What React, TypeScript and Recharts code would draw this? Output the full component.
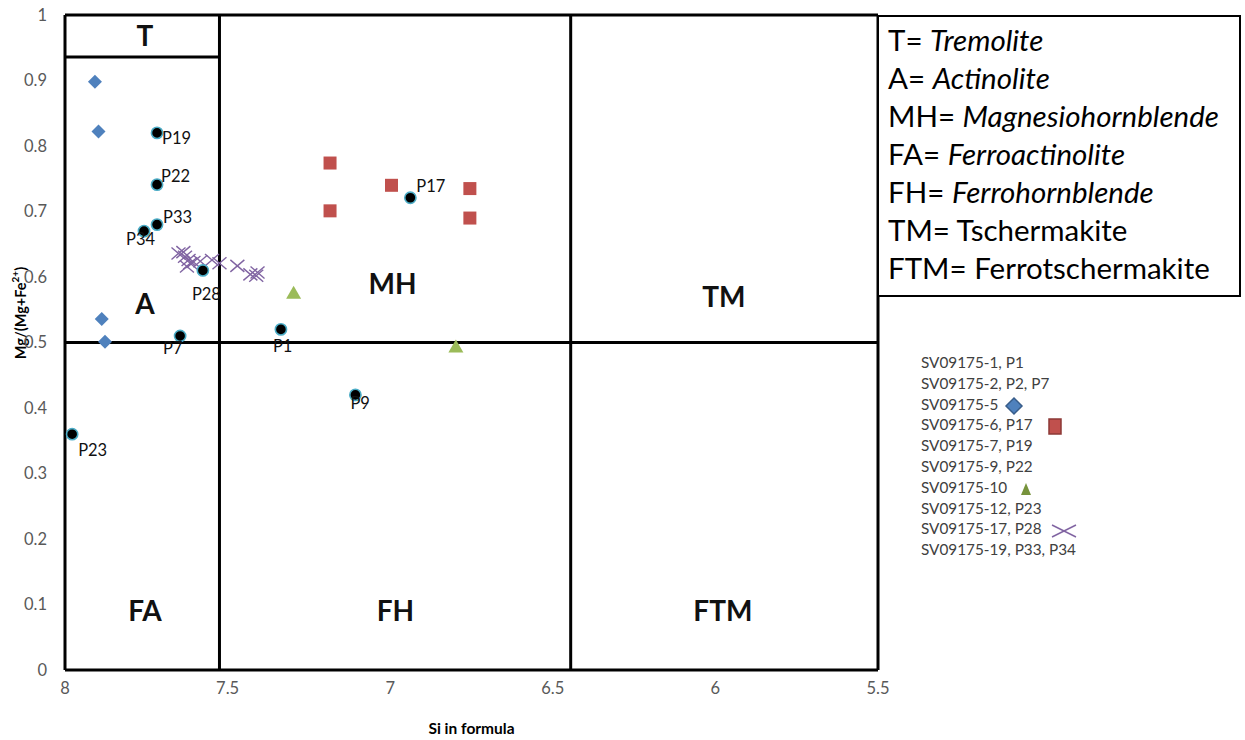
import React from 'react';
import { ScatterChart, Scatter, XAxis, YAxis, ReferenceLine, Legend } from 'recharts';

// axis ticks
const siTicks = [8, 7.5, 7, 6.5, 6, 5.5];
const mgTicks = [0, 0.1, 0.2, 0.3, 0.4, 0.5, 0.6, 0.7, 0.8, 0.9, 1];

// labelled spot analyses (black dots)
const spotNames = ['P19', 'P22', 'P33', 'P34', 'P28', 'P7', 'P1', 'P17', 'P9', 'P23'];
const spotSi = [7.717, 7.717, 7.717, 7.757, 7.576, 7.646, 7.336, 6.938, 7.107, 7.978];
const spotMg = [0.82, 0.741, 0.68, 0.67, 0.61, 0.51, 0.52, 0.721, 0.42, 0.36];

// SV09175-5 (diamonds)
const sv5Si = [7.908, 7.897, 7.887, 7.877];
const sv5Mg = [0.898, 0.822, 0.536, 0.501];

// SV09175-6 (squares)
const sv6Si = [7.185, 7.185, 6.996, 6.755, 6.755];
const sv6Mg = [0.774, 0.701, 0.74, 0.735, 0.69];

// SV09175-10 (triangles)
const sv10Si = [7.297, 6.798];
const sv10Mg = [0.576, 0.494];

// SV09175-17 (crosses)
const sv17Si = [7.651, 7.636, 7.631, 7.62, 7.615, 7.625, 7.605, 7.584, 7.548, 7.525, 7.47, 7.43, 7.412, 7.408];
const sv17Mg = [0.636, 0.638, 0.631, 0.626, 0.621, 0.616, 0.623, 0.624, 0.626, 0.621, 0.617, 0.604, 0.602, 0.607];

// classification fields
const fieldNames = ['T', 'A', 'MH', 'TM', 'FA', 'FH', 'FTM'];
const fieldSi = [7.754, 7.754, 6.993, 5.974, 7.754, 6.984, 5.977];
const fieldMg = [0.969, 0.56, 0.591, 0.571, 0.092, 0.092, 0.092];

// field boundaries as drawn
const siLeftSplit = 7.525;
const siRightSplit = 6.445;
const mgSplit = 0.5;
const mgTremolite = 0.936;

const legendNames = [
  'SV09175-1, P1',
  'SV09175-2, P2, P7',
  'SV09175-5',
  'SV09175-6, P17',
  'SV09175-7, P19',
  'SV09175-9, P22',
  'SV09175-10',
  'SV09175-12, P23',
  'SV09175-17, P28',
  'SV09175-19, P33, P34',
];
const legendMarkers = ['', '', 'diamond', 'square', '', '', 'triangle', '', 'cross', ''];

const defTerms = ['T', 'A', 'MH', 'FA', 'FH', 'TM', 'FTM'];
const defNames = ['Tremolite', 'Actinolite', 'Magnesiohornblende', 'Ferroactinolite', 'Ferrohornblende', 'Tschermakite', 'Ferrotschermakite'];
const defItalic = [true, true, true, true, true, false, false];

const toPoints = (si: number[], mg: number[]) => si.map((s, i) => ({ si: s, mg: mg[i] }));

const spotData = spotNames.map((name, i) => ({ name, si: spotSi[i], mg: spotMg[i] }));
const fieldData = fieldNames.map((name, i) => ({ name, si: fieldSi[i], mg: fieldMg[i] }));

// where each P label sits relative to its dot
const spotLabelOffset: Record<string, [number, number]> = {
  P19: [5, 5],
  P22: [4, -9],
  P33: [6, -8],
  P34: [-18, 8],
  P28: [-11, 24],
  P7: [-17, 12],
  P1: [-8, 17],
  P17: [6, -12],
  P9: [-5, 8],
  P23: [6, 16],
};

const FONT = 'Lato, "Open Sans", sans-serif';
const LINE = { stroke: '#000', strokeWidth: 3 };

const Diamond = ({ cx, cy }: any) => (
  <polygon points={`${cx},${cy - 7} ${cx + 7},${cy} ${cx},${cy + 7} ${cx - 7},${cy}`} fill="#4F81BD" />
);
const Square = ({ cx, cy }: any) => <rect x={cx - 6.5} y={cy - 6.5} width={13} height={13} fill="#C0504D" />;
const Triangle = ({ cx, cy }: any) => (
  <polygon points={`${cx},${cy - 7} ${cx + 7.5},${cy + 6} ${cx - 7.5},${cy + 6}`} fill="#9BBB59" />
);
const Cross = ({ cx, cy }: any) => (
  <g stroke="#8064A2" strokeWidth={1.4}>
    <line x1={cx - 7} y1={cy - 6} x2={cx + 7} y2={cy + 6} />
    <line x1={cx - 7} y1={cy + 6} x2={cx + 7} y2={cy - 6} />
  </g>
);

const Spot = ({ cx, cy, payload }: any) => {
  const [dx, dy] = spotLabelOffset[payload.name] || [6, 0];
  return (
    <g>
      <circle cx={cx} cy={cy} r={5.6} fill="#000" stroke="#4BACC6" strokeWidth={1.6} />
      <text x={cx + dx} y={cy + dy} dominantBaseline="central" fontSize={16.5} fontFamily={FONT} fill="#111">
        {payload.name}
      </text>
    </g>
  );
};

const FieldLabel = ({ cx, cy, payload }: any) => (
  <text x={cx} y={cy} textAnchor="middle" dominantBaseline="central" fontSize={28} fontWeight={700} fontFamily={FONT} fill="#111">
    {payload.name}
  </text>
);

const LegendMark = ({ kind }: { kind: string }) => {
  if (kind === 'diamond')
    return (
      <svg width={20} height={20} style={{ marginLeft: 6, verticalAlign: 'middle' }}>
        <polygon points="10,2 18,10 10,18 2,10" fill="#4F81BD" stroke="#385D8A" strokeWidth={1.5} />
      </svg>
    );
  if (kind === 'square')
    return (
      <svg width={16} height={20} style={{ marginLeft: 14, verticalAlign: 'middle' }}>
        <rect x={2} y={2} width={12} height={15} fill="#C0504D" stroke="#8C3836" strokeWidth={1.5} />
      </svg>
    );
  if (kind === 'triangle')
    return (
      <svg width={14} height={16} style={{ marginLeft: 12, verticalAlign: 'middle' }}>
        <polygon points="7,2 12,14 2,14" fill="#77933C" />
      </svg>
    );
  if (kind === 'cross')
    return (
      <svg width={28} height={16} style={{ marginLeft: 8, verticalAlign: 'middle' }}>
        <line x1={2} y1={2} x2={26} y2={14} stroke="#8064A2" strokeWidth={1.5} />
        <line x1={2} y1={14} x2={26} y2={2} stroke="#8064A2" strokeWidth={1.5} />
      </svg>
    );
  return null;
};

const SampleLegend = () => (
  <div style={{ fontFamily: FONT, fontSize: 15.3, color: '#404040' }}>
    {legendNames.map((name, i) => (
      <div key={name} style={{ height: 20.8, lineHeight: '20.8px', whiteSpace: 'nowrap' }}>
        {name}
        <LegendMark kind={legendMarkers[i]} />
      </div>
    ))}
  </div>
);

const YLabel = () => (
  <text
    x={20}
    y={313}
    transform="rotate(-90, 20, 313)"
    textAnchor="middle"
    dominantBaseline="central"
    fontSize={14.5}
    fontWeight={700}
    fontFamily={FONT}
    fill="#000"
  >
    Mg/(Mg+Fe
    <tspan dy={-5} fontSize={10}>2+</tspan>
    <tspan dy={5}>)</tspan>
  </text>
);

export default function App() {
  const tickStyle = { fontSize: 16.5, fontFamily: FONT, fill: '#595959' };
  return (
    <div style={{ position: 'absolute', left: 0, top: 0, width: 1245, height: 740, background: '#fff' }}>
      <ScatterChart width={1245} height={740} margin={{ top: 15, right: 367, bottom: 30, left: 20 }}>
        <XAxis
          type="number"
          dataKey="si"
          domain={[5.5, 8]}
          reversed
          ticks={siTicks}
          axisLine={false}
          tickLine={false}
          tick={tickStyle}
          tickMargin={6}
          height={40}
          label={{ value: 'Si in formula', position: 'bottom', offset: 13, fontSize: 15.5, fontWeight: 700, fontFamily: FONT, fill: '#000' }}
        />
        <YAxis
          type="number"
          dataKey="mg"
          domain={[0, 1]}
          ticks={mgTicks}
          axisLine={false}
          tickLine={false}
          tick={tickStyle}
          tickMargin={12}
          width={45}
          label={{ content: <YLabel /> }}
        />
        <ReferenceLine segment={[{ x: 8, y: 0 }, { x: 8, y: 1 }]} {...LINE} />
        <ReferenceLine segment={[{ x: 8, y: 1 }, { x: 5.5, y: 1 }]} {...LINE} />
        <ReferenceLine segment={[{ x: 8, y: 0 }, { x: 5.5, y: 0 }]} {...LINE} />
        <ReferenceLine segment={[{ x: 5.5, y: 0 }, { x: 5.5, y: 1 }]} {...LINE} />
        <ReferenceLine segment={[{ x: siLeftSplit, y: 0 }, { x: siLeftSplit, y: 1 }]} {...LINE} />
        <ReferenceLine segment={[{ x: siRightSplit, y: 0 }, { x: siRightSplit, y: 1 }]} {...LINE} />
        <ReferenceLine segment={[{ x: 8, y: mgSplit }, { x: 5.5, y: mgSplit }]} {...LINE} />
        <ReferenceLine segment={[{ x: 8, y: mgTremolite }, { x: siLeftSplit, y: mgTremolite }]} {...LINE} />
        <Scatter name="fields" data={fieldData} shape={FieldLabel} isAnimationActive={false} legendType="none" />
        <Scatter name="SV09175-5" data={toPoints(sv5Si, sv5Mg)} shape={Diamond} isAnimationActive={false} />
        <Scatter name="SV09175-6" data={toPoints(sv6Si, sv6Mg)} shape={Square} isAnimationActive={false} />
        <Scatter name="SV09175-10" data={toPoints(sv10Si, sv10Mg)} shape={Triangle} isAnimationActive={false} />
        <Scatter name="SV09175-17" data={toPoints(sv17Si, sv17Mg)} shape={Cross} isAnimationActive={false} />
        <Scatter name="spots" data={spotData} shape={Spot} isAnimationActive={false} />
        <Legend
          layout="vertical"
          align="center"
          verticalAlign="middle"
          content={<SampleLegend />}
          wrapperStyle={{ left: 921, top: 352, width: 320, height: 215 }}
        />
      </ScatterChart>
      <div
        style={{
          position: 'absolute',
          left: 877,
          top: 15,
          width: 364,
          height: 282,
          boxSizing: 'border-box',
          border: '2.6px solid #000',
          background: '#fff',
          padding: '4px 0 0 9px',
          fontFamily: FONT,
          fontSize: 29.5,
          lineHeight: '38px',
          color: '#000',
          whiteSpace: 'nowrap',
        }}
      >
        {defTerms.map((term, i) => (
          <div key={term}>
            {term}= {defItalic[i] ? <i>{defNames[i]}</i> : defNames[i]}
          </div>
        ))}
      </div>
    </div>
  );
}
